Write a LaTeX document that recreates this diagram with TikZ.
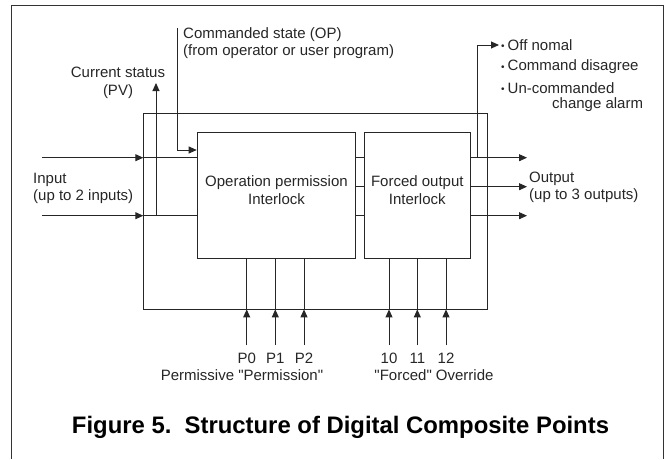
\documentclass[tikz,border=0pt]{standalone}
\usepackage{fontspec}
\setmainfont{Liberation Sans}[Ligatures=TeXOff]
\usetikzlibrary{arrows.meta}
\newcommand{\bul}{{\fontsize{10}{10}\selectfont\raisebox{0.8pt}{•}}\hspace{3pt}}
\begin{document}
\begin{tikzpicture}[x=1pt,y=-1pt,
  ln/.style={line width=0.9pt,draw=black!85},
  arr/.style={ln,-{Triangle[length=8pt,width=7pt]}},
  blk/.style={ln,rectangle,inner sep=0pt,anchor=north west},
  txt/.style={font=\fontsize{15}{17.5}\selectfont,inner sep=0pt,text=black!85},
  ]
\useasboundingbox (0,0) rectangle (669,459);
% page frame
\coordinate (fa) at (11,459);
\coordinate (fb) at (11,5);
\coordinate (fc) at (663,5);
\coordinate (fd) at (663,459);
\draw[line width=0.8pt,black!80] (fa) -- (fb) -- (fc) -- (fd);
% blocks
\node[blk,minimum width=344pt,minimum height=195.5pt] (outer) at (143.3,113) {};
\node[blk,minimum width=158.3pt,minimum height=126pt] (op) at (196.7,131.7) {};
\node[blk,minimum width=105.7pt,minimum height=126pt] (fo) at (364.3,131.7) {};
\node[txt,align=center] (optxt) at (276.5,190.3) {Operation permission\\Interlock};
\node[txt,align=center] (fotxt) at (417.3,190.3) {Forced output\\Interlock};
% rows
\coordinate (inA) at (42,157.7);
\coordinate (inB) at (42,215.7);
\coordinate (rowM) at (0,186.7);
% inputs
\draw[arr] (inA) -- (inA -| outer.west);
\draw[ln] (inA -| outer.west) -- (inA -| op.west);
\draw[arr] (inB) -- (inB -| outer.west);
\draw[ln] (inB -| outer.west) -- (inB -| op.west);
% current status
\coordinate (pv) at (156,83);
\draw[arr] (inB -| pv) -- (pv);
% commanded state
\coordinate (cmdT) at (177.7,28);
\coordinate (cmdB) at (177.7,150);
\draw[arr] (cmdT) -- (cmdB) -- (cmdB -| op.west);
% between blocks
\draw[ln] (inA -| op.east) -- (inA -| fo.west);
\draw[ln] (rowM -| op.east) -- (rowM -| fo.west);
\draw[ln] (inB -| op.east) -- (inB -| fo.west);
% outputs
\coordinate (outA) at (527,157.7);
\coordinate (outB) at (527,186.7);
\coordinate (outC) at (527,215.7);
\draw[arr] (outA -| fo.east) -- (outA);
\draw[arr] (outB -| fo.east) -- (outB);
\draw[arr] (outC -| fo.east) -- (outC);
% alarm
\coordinate (almB) at (477,157.7);
\coordinate (alm) at (499,45);
\draw[arr] (almB) -- (almB |- alm) -- (alm);
% bottom inputs
\foreach \n/\x/\b in {p0/246.7/op,p1/275.3/op,p2/304/op,f0/389/fo,f1/417.3/fo,f2/446/fo}{
  \coordinate (\n) at (\x,345);
  \draw[arr] (\n) -- (\n |- outer.south);
  \draw[ln] (\n |- outer.south) -- (\n |- \b.south);
}
% labels
\node[txt,align=left,anchor=west] (cmdlbl) at (183,43) {\fontsize{15}{19.5}\selectfont Commanded state (OP)\\(from operator or user program)};
\node[txt,align=center] (pvlbl) at (118,83) {\fontsize{15}{16.5}\selectfont Current status\\(PV)};
\node[txt,align=left,anchor=west] (inlbl) at (33,188.5) {Input\\(up to 2 inputs)};
\node[txt,align=left,anchor=west] (outlbl) at (529,187.5) {Output\\(up to 3 outputs)};
\node[txt,anchor=west] (al1) at (501,45) {\bul Off nomal};
\node[txt,anchor=west] (al2) at (501,67) {\bul Command disagree};
\node[txt,anchor=west] (al3) at (501,88) {\bul Un-commanded};
\node[txt,anchor=west] (al4) at (552,105) {change alarm};
\node[txt] (lp0) at (246.7,358) {P0};
\node[txt] (lp1) at (275.3,358) {P1};
\node[txt] (lp2) at (304,358) {P2};
\node[txt] (lf0) at (389,358) {10};
\node[txt] (lf1) at (417.3,358) {11};
\node[txt] (lf2) at (446,358) {12};
\node[txt] (plbl) at (242,375) {Permissive "Permission"};
\node[txt] (flbl) at (434,375) {"Forced" Override};
\node[inner sep=0pt] (cap) at (340.5,427) {\resizebox{537pt}{!}{\fontsize{20}{24}\selectfont\bfseries Figure 5.\ \ Structure of Digital Composite Points}};
\end{tikzpicture}
\end{document}
